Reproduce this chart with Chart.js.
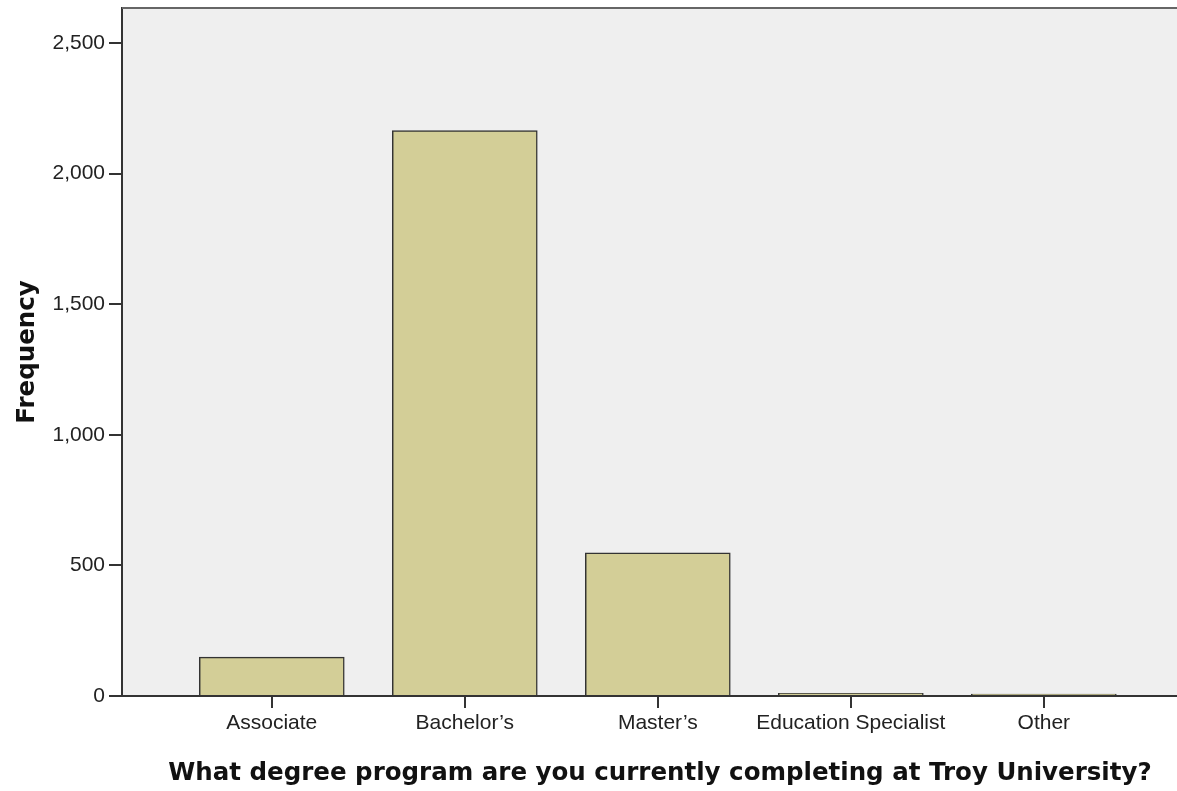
<!DOCTYPE html>
<html>
<head>
<meta charset="utf-8">
<script src="https://cdn.jsdelivr.net/npm/chart.js@4/dist/chart.umd.min.js"></script>
<style>
  html, body { margin: 0; padding: 0; background: #fff; }
  #wrap { width: 1177px; height: 791px; position: relative; }
</style>
</head>
<body>
<div id="wrap"><canvas id="chart"></canvas></div>
<script>
const categories = ['Associate', 'Bachelor\u2019s', 'Master\u2019s', 'Education Specialist', 'Other'];
const frequency = [149, 2165, 548, 10, 7];
const yTicks = [0, 500, 1000, 1500, 2000, 2500];
const xTitle = 'What degree program are you currently completing at Troy University?';
const yTitle = 'Frequency';

// Plot background, top frame line and axis titles
const framePlugin = {
  id: 'frame',
  beforeDraw(chart) {
    const { ctx, chartArea: a } = chart;
    ctx.save();
    ctx.fillStyle = '#efefef';
    ctx.fillRect(a.left, a.top, a.right - a.left, a.bottom - a.top);
    ctx.restore();
  },
  afterDraw(chart) {
    const { ctx, chartArea: a } = chart;
    ctx.save();
    ctx.strokeStyle = '#666';
    ctx.lineWidth = 2;
    ctx.beginPath();
    ctx.moveTo(a.left, a.top);
    ctx.lineTo(a.right, a.top);
    ctx.stroke();

    ctx.fillStyle = '#111';
    ctx.font = 'bold 24.5px "DejaVu Sans"';
    ctx.textAlign = 'center';
    ctx.textBaseline = 'middle';
    ctx.fillText(xTitle, 660, 774);

    ctx.translate(28, (a.top + a.bottom) / 2);
    ctx.rotate(-Math.PI / 2);
    ctx.fillText(yTitle, 0, 0);
    ctx.restore();
  },
};

const ctx = document.getElementById('chart').getContext('2d');
new Chart(ctx, {
  type: 'bar',
  data: {
    datasets: [{
      data: frequency.map((v, i) => ({ x: i + 1, y: v })),
      backgroundColor: '#d3ce97',
      borderColor: '#333',
      borderWidth: 1.5,
      barThickness: 145,
    }],
  },
  plugins: [framePlugin],
  options: {
    responsive: true,
    maintainAspectRatio: false,
    animation: false,
    layout: { padding: { top: 8, left: 0, right: 0, bottom: 0 } },
    plugins: { legend: { display: false }, tooltip: { enabled: false } },
    scales: {
      x: {
        type: 'linear',
        min: 0.224,
        max: 5.69,
        offset: false,
        afterBuildTicks: s => { s.ticks = categories.map((c, i) => ({ value: i + 1 })); },
        afterFit: s => { s.height = 95; s.paddingLeft = 0; s.paddingRight = 0; },
        ticks: {
          callback: v => categories[v - 1],
          font: { family: '"Liberation Sans", Arial', size: 21 },
          color: '#222',
          padding: 3,
          maxRotation: 0,
          autoSkip: false,
        },
        grid: { offset: false, drawOnChartArea: false, tickLength: 12, color: '#333', lineWidth: 2 },
        border: { color: '#333', width: 2 },
      },
      y: {
        min: 0,
        max: 2634,
        afterBuildTicks: s => { s.ticks = yTicks.map(v => ({ value: v })); },
        afterFit: s => { s.width = 122; s.paddingTop = 0; s.paddingBottom = 0; },
        ticks: {
          callback: v => v.toLocaleString('en-US'),
          font: { family: '"Liberation Sans", Arial', size: 21 },
          color: '#222',
          padding: 4,
        },
        grid: { drawOnChartArea: false, tickLength: 13, color: '#333', lineWidth: 2 },
        border: { color: '#333', width: 2 },
      },
    },
  },
});
</script>
</body>
</html>
